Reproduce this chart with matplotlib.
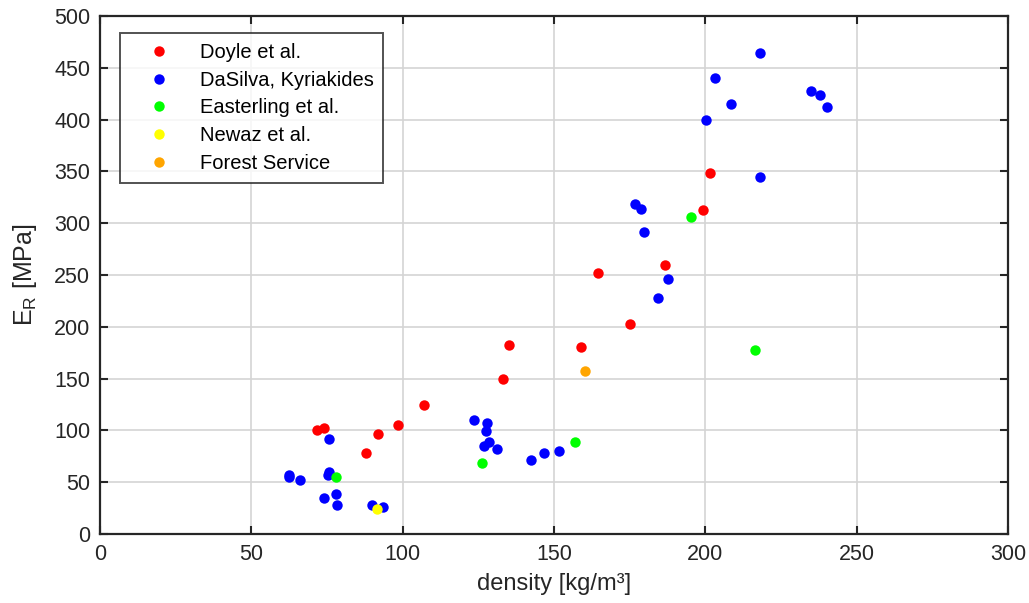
import matplotlib
matplotlib.use("Agg")
import matplotlib.pyplot as plt

plt.rcParams['font.family'] = ['Liberation Sans', 'DejaVu Sans']

doyle_x = [71.6, 73.9, 87.9, 91.8, 98.4, 107.2, 133.0, 135.0, 158.9, 164.6, 175.2, 186.7, 199.3, 201.4]
doyle_y = [100.4, 102.6, 78.5, 96.8, 105.2, 124.5, 149.6, 182.4, 180.8, 251.9, 202.7, 259.7, 313.0, 348.5]

dasilva_x = [75.7, 123.6, 127.7, 127.4, 128.6, 126.9, 131.0, 142.4, 146.7, 151.6, 62.5, 62.5, 66.1,
             75.6, 75.2, 74.0, 78.0, 78.3, 90.0, 93.4, 217.9, 203.3, 208.5, 200.3, 234.8, 237.9,
             240.2, 218.0, 176.6, 178.8, 179.8, 187.6, 184.5]
dasilva_y = [92.0, 110.0, 107.4, 99.4, 88.5, 85.3, 82.4, 71.4, 77.9, 79.8, 57.0, 54.7, 51.8,
             60.0, 57.0, 35.0, 38.9, 28.0, 27.7, 25.7, 464.0, 440.5, 414.8, 399.6, 427.9, 423.7,
             412.2, 344.6, 318.5, 313.7, 291.2, 246.4, 227.5]

easterling_x = [78.0, 126.1, 157.0, 195.1, 216.4]
easterling_y = [54.7, 68.5, 89.1, 305.7, 177.3]

newaz_x = [91.5]
newaz_y = [24.1]

forest_x = [160.4]
forest_y = [157.0]

series = [
    ("Doyle et al.", doyle_x, doyle_y, "#ff0000"),
    ("DaSilva, Kyriakides", dasilva_x, dasilva_y, "#0000ff"),
    ("Easterling et al.", easterling_x, easterling_y, "#00ff00"),
    ("Newaz et al.", newaz_x, newaz_y, "#ffff00"),
    ("Forest Service", forest_x, forest_y, "#ffa500"),
]

fig = plt.figure(figsize=(10.29, 6.03), dpi=100)
ax = fig.add_axes([0.0972, 0.1144, 0.9796 - 0.0972, 0.9735 - 0.1144])

for label, xs, ys, c in series:
    ax.plot(xs, ys, linestyle='none', marker='o', markersize=7.5, color=c,
            markeredgewidth=0, label=label, zorder=3)

ax.set_xlim(0, 300)
ax.set_ylim(0, 500)
ax.set_xticks(range(0, 301, 50))
ax.set_yticks(range(0, 501, 50))
ax.grid(True, color='#d4d4d4', linewidth=1.2)
ax.set_axisbelow(True)
ax.tick_params(direction='in', top=True, right=True, length=6, width=1.5,
               labelsize=15.5, colors='#262626', pad=7)
for s in ax.spines.values():
    s.set_linewidth(1.6)
    s.set_color('#262626')

ax.set_xlabel('density [kg/m³]', fontsize=17, color='#262626', labelpad=6)
ax.set_ylabel(r'E$_\mathregular{R}$ [MPa]', fontsize=18, color='#262626', labelpad=11)

leg = ax.legend(loc='upper left', bbox_to_anchor=(0.022, 0.967), borderaxespad=0,
                fontsize=14.5, frameon=True, fancybox=False, edgecolor='#262626',
                borderpad=0.5, handletextpad=0.55, labelspacing=0.43, handlelength=2.9)
leg.get_frame().set_linewidth(1.4)

fig.savefig('out.png', dpi=100)
